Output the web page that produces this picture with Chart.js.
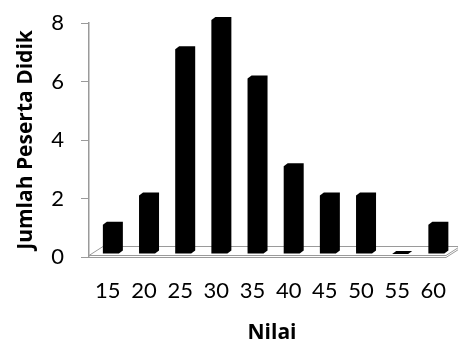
<!DOCTYPE html>
<html>
<head>
<meta charset="utf-8">
<script src="https://cdn.jsdelivr.net/npm/chart.js@4/dist/chart.umd.min.js"></script>
<style>
  html, body { margin: 0; padding: 0; background: #fff; }
  #wrap { width: 458px; height: 340px; }
</style>
</head>
<body>
<div id="wrap"><canvas id="c" width="458" height="340"></canvas></div>
<script>
// Nilai (score) groups and number of students in each
const categories = [15, 20, 25, 30, 35, 40, 45, 50, 55, 60];
const counts = [1, 2, 7, 8, 6, 3, 2, 2, 0, 1];
const yTicks = [0, 2, 4, 6, 8];

const AXIS_GRAY = '#9a9a9a';
const FONT = 'Lato, "Open Sans", sans-serif';
const TITLE_FONT = '"Open Sans", Lato, sans-serif';

// 3D look: front face, bevelled top and right side
const DEPTH_X = 4, DEPTH_Y = 3, LIFT = 3;

const floorPlugin = {
  id: 'floor3d',
  beforeDatasetsDraw(chart) {
    const { ctx, chartArea } = chart;
    const y0 = chart.scales.y.getPixelForValue(0);
    const left = chartArea.left, right = chartArea.right - 9;
    const dx = 14, dy = 9;
    ctx.save();
    ctx.strokeStyle = AXIS_GRAY;
    ctx.lineWidth = 1;
    ctx.fillStyle = '#ffffff';
    // top surface of the floor slab
    ctx.beginPath();
    ctx.moveTo(left, y0 - 1.5);
    ctx.lineTo(left + dx, y0 - 1.5 - dy);
    ctx.lineTo(right + dx, y0 - 1.5 - dy);
    ctx.lineTo(right, y0 - 1.5);
    ctx.closePath();
    ctx.fill();
    ctx.stroke();
    // front edge and right side of the slab
    ctx.beginPath();
    ctx.moveTo(left, y0 + 0.5);
    ctx.lineTo(right, y0 + 0.5);
    ctx.lineTo(right + dx, y0 + 0.5 - dy);
    ctx.stroke();
    ctx.restore();
  }
};

const prismPlugin = {
  id: 'prismBars',
  beforeDatasetDraw(chart, args) {
    const meta = args.meta;
    const { ctx } = chart;
    ctx.save();
    ctx.fillStyle = '#000';
    meta.data.forEach(bar => {
      const { x, y, base, width } = bar.getProps(['x', 'y', 'base', 'width'], true);
      const fl = x - width / 2;
      const fr = fl + width - DEPTH_X;
      const top = y - LIFT;
      const bottom = base - LIFT;
      ctx.beginPath();
      ctx.moveTo(fl, bottom);
      ctx.lineTo(fl, top);
      ctx.lineTo(fl + DEPTH_X, top - DEPTH_Y);
      ctx.lineTo(fr + DEPTH_X, top - DEPTH_Y);
      ctx.lineTo(fr + DEPTH_X, bottom - DEPTH_Y);
      ctx.lineTo(fr, bottom);
      ctx.closePath();
      ctx.fill();
    });
    ctx.restore();
    return false;
  }
};

new Chart(document.getElementById('c'), {
  type: 'bar',
  data: {
    datasets: [{
      data: categories.map((c, i) => ({ x: c, y: counts[i] })),
      backgroundColor: '#000',
      barThickness: 20
    }]
  },
  options: {
    responsive: false,
    animation: false,
    layout: { padding: { left: 0, right: 3, top: 23, bottom: 0 } },
    plugins: { legend: { display: false }, tooltip: { enabled: false } },
    scales: {
      x: {
        type: 'linear',
        offset: false,
        min: 11.7,
        max: 62.3,
        grid: { display: false },
        border: { display: false },
        afterBuildTicks(scale) { scale.ticks = categories.map(v => ({ value: v })); },
        afterFit(scale) {
          scale.height = 83;
          scale.paddingLeft = 0;
          scale.paddingRight = 0;
        },
        ticks: {
          autoSkip: false,
          maxRotation: 0,
          padding: 13,
          labelOffset: -5,
          color: '#000',
          font: { family: FONT, size: 22 }
        },
        title: {
          display: true,
          text: 'Nilai',
          color: '#000',
          font: { family: TITLE_FONT, size: 21, weight: 'bold', lineHeight: 1 },
          padding: { top: 0, bottom: -4 }
        }
      },
      y: {
        min: 0,
        max: 8,
        afterBuildTicks(scale) { scale.ticks = yTicks.map(v => ({ value: v })); },
        afterFit(scale) {
          scale.width = 89;
          scale.paddingTop = 0;
          scale.paddingBottom = 0;
        },
        grid: {
          display: true,
          drawOnChartArea: false,
          drawTicks: true,
          tickLength: 8,
          color: AXIS_GRAY
        },
        border: { display: true, color: AXIS_GRAY, width: 1.5 },
        ticks: {
          padding: 17,
          color: '#000',
          font: { family: FONT, size: 22 }
        },
        title: {
          display: true,
          text: 'Jumlah Peserta Didik',
          color: '#000',
          font: { family: TITLE_FONT, size: 21, weight: 'bold', lineHeight: 1 },
          padding: { top: 16, bottom: 0 }
        }
      }
    }
  },
  plugins: [floorPlugin, prismPlugin]
});
</script>
</body>
</html>
